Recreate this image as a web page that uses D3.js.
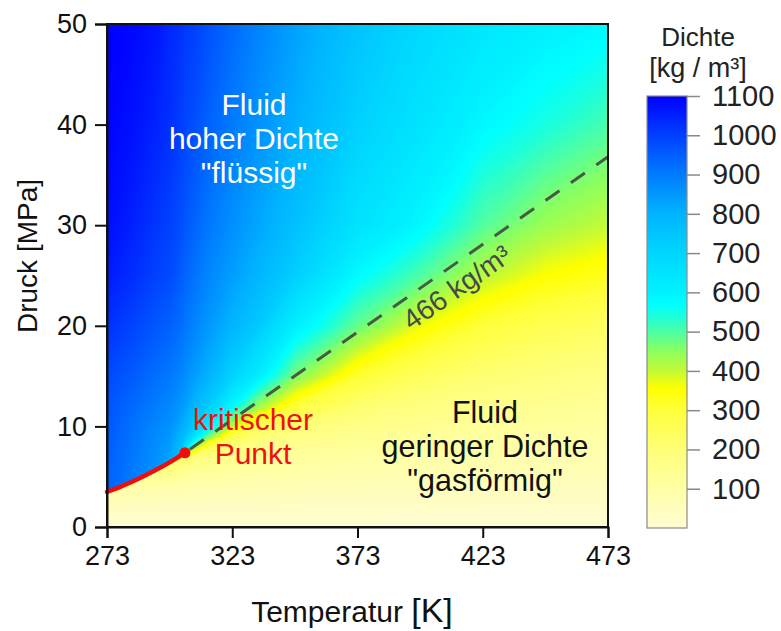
<!DOCTYPE html>
<html><head><meta charset="utf-8">
<script src="https://cdn.jsdelivr.net/npm/d3@7"></script>
<style>
body{margin:0;background:#fff}
svg{display:block}
text{font-family:"Liberation Sans",Arial,sans-serif}
</style>
</head><body>
<svg id="chart" width="781" height="631"></svg>
<script>
// ---------- data ----------
const temps = [273, 283, 293, 298, 303, 304, 308, 313, 323, 333, 348, 373, 398, 423, 448, 473];
const pressures = [0, 2, 4, 6, 7, 8, 9, 10, 12, 15, 20, 25, 30, 40, 50];
// density [kg/m3], one row per pressure, one column per temperature
const density = [
  [935, 895, 850, 810, 740, 0, 0, 0, 0, 0, 0, 0, 0, 0, 0, 0],
  [940, 897, 852, 812, 740, 36, 35, 34, 33, 32, 30, 29, 27, 25, 24, 23],
  [945, 900, 855, 815, 740, 85, 82, 80, 75, 71, 66, 60, 55, 50, 48, 46],
  [948, 905, 858, 820, 740, 170, 155, 145, 130, 118, 105, 93, 85, 78, 73, 69],
  [950, 908, 862, 830, 745, 240, 200, 180, 155, 140, 122, 108, 98, 90, 84, 79],
  [952, 912, 866, 840, 760, 690, 455, 280, 200, 170, 145, 125, 112, 102, 95, 89],
  [955, 916, 871, 850, 785, 760, 650, 480, 265, 210, 170, 145, 128, 115, 106, 99],
  [960, 920, 878, 862, 810, 795, 730, 620, 400, 260, 205, 165, 145, 128, 118, 110],
  [968, 932, 895, 880, 845, 835, 790, 735, 580, 440, 300, 215, 180, 158, 143, 132],
  [985, 955, 920, 905, 880, 870, 840, 805, 710, 620, 463, 310, 245, 210, 185, 168],
  [1025, 995, 960, 945, 920, 910, 885, 852, 795, 740, 612, 480, 370, 300, 265, 240],
  [1060, 1030, 995, 985, 950, 940, 915, 885, 838, 795, 720, 578, 500, 410, 355, 330],
  [1080, 1050, 1015, 1000, 972, 962, 940, 910, 865, 825, 765, 655, 585, 495, 435, 400],
  [1095, 1075, 1045, 1025, 1000, 990, 975, 945, 902, 862, 808, 715, 650, 585, 545, 505],
  [1100, 1090, 1065, 1040, 1020, 1012, 1000, 975, 930, 890, 835, 752, 690, 640, 605, 585]
];
// gas phase below the saturation curve
const gasTemps = [273, 283, 293, 298, 304];
const gasPressures = [0, 2, 4, 6, 8];
const gasDensity = [
  [0, 0, 0, 0, 0],
  [45, 40, 38, 37, 36],
  [105, 100, 90, 88, 85],
  [160, 165, 190, 195, 170],
  [220, 230, 250, 280, 300]
];
// saturation (boiling) curve and critical point
const satTemps = [273, 278, 283, 288, 293, 298, 303, 304.13];
const satPressures = [3.49, 3.97, 4.50, 5.09, 5.73, 6.43, 7.21, 7.38];
const criticalPoint = [304.13, 7.38];
// 466 kg/m3 isochore
const isoTemps = [304.13, 473];
const isoPressures = [7.38, 36.8];
const isoLabel = "466 kg/m³";
// ticks
const xTicks = [273, 323, 373, 423, 473];
const yTicks = [0, 10, 20, 30, 40, 50];
const cbTicks = [100, 200, 300, 400, 500, 600, 700, 800, 900, 1000, 1100];
// colour map
const colorStops = [0, 100, 200, 300, 355, 400, 450, 500, 540, 570, 600, 700, 800, 900, 1000, 1100];
const colorValues = ["#fffcd2", "#ffffa6", "#ffff78", "#ffff3c", "#ffff00", "#c4fa36", "#8cff5e", "#4cffa6",
  "#1cffdc", "#00ffff", "#00f2ff", "#00d6ff", "#00b4ff", "#007cff", "#0040ff", "#0000ff"];

// ---------- layout ----------
const svg = d3.select("#chart");
const X0 = 107, X1 = 608, Y0 = 527, Y1 = 24;
const x = d3.scaleLinear().domain([273, 473]).range([X0, X1]);
const y = d3.scaleLinear().domain([0, 50]).range([Y0, Y1]);
const color = d3.scaleLinear().domain(colorStops).range(colorValues).clamp(true);
const defs = svg.append("defs");

defs.append("clipPath").attr("id", "plotClip")
  .append("rect").attr("x", X0).attr("y", Y1).attr("width", X1 - X0).attr("height", Y0 - Y1);

const satLine = d3.line().x((d, i) => x(satTemps[i])).y((d, i) => y(satPressures[i])).curve(d3.curveMonotoneX);
const gasPoly = [[273, 0]].concat(satTemps.map((t, i) => [t, satPressures[i]])).concat([[304.13, 0]]);
defs.append("clipPath").attr("id", "gasClip")
  .append("path").attr("d", d3.line().x(d => x(d[0])).y(d => y(d[1]))(gasPoly) + "Z");

function drawField(g, Ts, Ps, rows) {
  const n = Ts.length, m = Ps.length;
  const values = [];
  for (let j = 0; j < m; j++) for (let i = 0; i < n; i++) values.push(rows[j][i]);
  const iT = d3.scaleLinear().domain(d3.range(n)).range(Ts).clamp(true);
  const iP = d3.scaleLinear().domain(d3.range(m)).range(Ps).clamp(true);
  const proj = d3.geoTransform({ point(cx, cy) { this.stream.point(x(iT(cx - 0.5)), y(iP(cy - 0.5))); } });
  const path = d3.geoPath(proj);
  const step = 4;
  const cs = d3.contours().size([n, m]).thresholds(d3.range(0, 1104, step))(values);
  g.selectAll("path").data(cs).join("path")
    .attr("d", path).attr("fill", d => color(d.value + step / 2)).attr("stroke", "none");
}
drawField(svg.append("g").attr("clip-path", "url(#plotClip)"), temps, pressures, density);
drawField(svg.append("g").attr("clip-path", "url(#gasClip)"), gasTemps, gasPressures, gasDensity);

// isochore
const plot = svg.append("g").attr("clip-path", "url(#plotClip)");
plot.append("line")
  .attr("x1", x(isoTemps[0])).attr("y1", y(isoPressures[0]))
  .attr("x2", x(isoTemps[1])).attr("y2", y(isoPressures[1]))
  .attr("stroke", "#3e3e3e").attr("stroke-width", 3).attr("stroke-dasharray", "17,14")
  .attr("stroke-dashoffset", -6).attr("opacity", 0.85);
const ang = Math.atan2(y(isoPressures[1]) - y(isoPressures[0]), x(isoTemps[1]) - x(isoTemps[0])) * 180 / Math.PI;
const lblT = 408;
const lblP = isoPressures[0] + (lblT - isoTemps[0]) * (isoPressures[1] - isoPressures[0]) / (isoTemps[1] - isoTemps[0]);
svg.append("text").attr("transform", `translate(${x(lblT)},${y(lblP)}) rotate(${ang})`)
  .attr("text-anchor", "middle").attr("dy", 30).attr("font-size", 28).attr("fill", "#484848")
  .text(isoLabel);

// saturation curve + critical point
svg.append("path").attr("d", satLine(satTemps)).attr("fill", "none")
  .attr("stroke", "#f20d0d").attr("stroke-width", 4.5).attr("stroke-linecap", "round");
svg.append("circle").attr("cx", x(criticalPoint[0])).attr("cy", y(criticalPoint[1])).attr("r", 5.5).attr("fill", "#f20d0d");

// region labels
function block(lines, cx, ys, fill, size) {
  const t = svg.append("text").attr("text-anchor", "middle").attr("fill", fill).attr("font-size", size);
  lines.forEach((s, i) => t.append("tspan").attr("x", cx).attr("y", ys[i]).text(s));
}
block(["Fluid", "hoher Dichte", "\"flüssig\""], 254, [115, 149, 183], "#ffffff", 30);
block(["kritischer", "Punkt"], 253, [430, 464], "#ee1111", 30);
block(["Fluid", "geringer Dichte", "\"gasförmig\""], 485, [423, 457, 491], "#111111", 30.5);

// frame and axes
svg.append("rect").attr("x", X0).attr("y", Y1).attr("width", X1 - X0).attr("height", Y0 - Y1)
  .attr("fill", "none").attr("stroke", "#111").attr("stroke-width", 2);
const yAxis = svg.append("g").attr("transform", `translate(${X0},0)`)
  .call(d3.axisLeft(y).tickValues(yTicks).tickSize(12).tickPadding(8).tickFormat(d3.format("d")));
const xAxis = svg.append("g").attr("transform", `translate(0,${Y0})`)
  .call(d3.axisBottom(x).tickValues(xTicks).tickSize(11).tickPadding(8).tickFormat(d3.format("d")));
[yAxis, xAxis].forEach(a => {
  a.select(".domain").attr("stroke", "#111").attr("stroke-width", 2);
  a.selectAll(".tick line").attr("stroke", "#111").attr("stroke-width", 2);
  a.selectAll(".tick text").attr("font-size", 27).attr("fill", "#111").attr("font-family", "Liberation Sans, Arial, sans-serif");
});
xAxis.selectAll(".tick text").attr("dy", "0.72em");

svg.append("text").attr("transform", "translate(37,256) rotate(-90)").attr("text-anchor", "middle")
  .attr("font-size", 28).attr("fill", "#111").text("Druck [MPa]");
const xt = svg.append("text").attr("x", 352).attr("y", 622).attr("text-anchor", "middle").attr("fill", "#111");
xt.append("tspan").attr("font-size", 30).text("Temperatur ");
xt.append("tspan").attr("font-size", 34).text("[K]");

// colour bar
const CB0 = 647, CBW = 40;
const cbY = d3.scaleLinear().domain([0, 1100]).range([528, 96]);
const grad = defs.append("linearGradient").attr("id", "cbGrad")
  .attr("gradientUnits", "userSpaceOnUse").attr("x1", 0).attr("x2", 0).attr("y1", cbY(0)).attr("y2", cbY(1100));
colorStops.forEach((v, i) => grad.append("stop").attr("offset", v / 1100).attr("stop-color", colorValues[i]));
svg.append("rect").attr("x", CB0).attr("y", cbY(1100)).attr("width", CBW).attr("height", cbY(0) - cbY(1100))
  .attr("fill", "url(#cbGrad)").attr("stroke", "#8a8a8a").attr("stroke-width", 1.2);
const cbAxis = svg.append("g").attr("transform", `translate(${CB0 + CBW},0)`)
  .call(d3.axisRight(cbY).tickValues(cbTicks).tickSize(13).tickPadding(12).tickFormat(d3.format("d")));
cbAxis.select(".domain").remove();
cbAxis.selectAll(".tick line").attr("stroke", "#8a8a8a").attr("stroke-width", 1.5);
cbAxis.selectAll(".tick text").attr("font-size", 29).attr("fill", "#222").attr("font-family", "Liberation Sans, Arial, sans-serif");
svg.append("text").attr("x", 698).attr("y", 46).attr("text-anchor", "middle").attr("font-size", 26).attr("fill", "#222").text("Dichte");
svg.append("text").attr("x", 698).attr("y", 77).attr("text-anchor", "middle").attr("font-size", 27).attr("fill", "#222").text("[kg / m³]");
</script>
</body></html>
